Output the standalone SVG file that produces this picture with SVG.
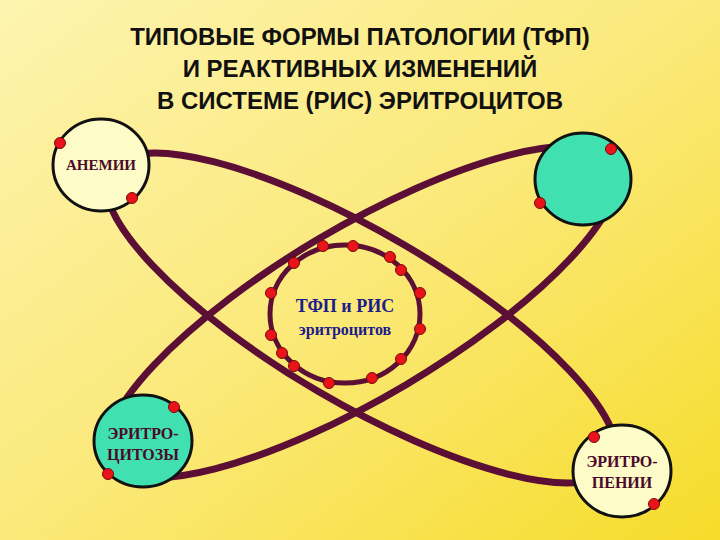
<svg xmlns="http://www.w3.org/2000/svg" width="720" height="540" viewBox="0 0 720 540">
<defs>
<linearGradient id="bg" x1="0" y1="0" x2="1" y2="1">
<stop offset="0" stop-color="#fdf4b0"/><stop offset="0.5" stop-color="#fbe97a"/><stop offset="1" stop-color="#f6dc2a"/>
</linearGradient>
<style>
.orb{fill:none;stroke:#5c0f34;stroke-width:7}
.node{stroke:#111;stroke-width:3}
.pale{fill:#fdfbc8}.teal{fill:#40e0b0}
.dot{fill:#e8141a;stroke:#7a0a0a;stroke-width:1}
.t{font-family:"Liberation Serif",serif;font-weight:bold;fill:#4a0a28;text-anchor:middle}
.ti{font-family:"Liberation Sans",Arial,sans-serif;font-weight:bold;font-size:24px;fill:#111;text-anchor:middle}
</style>
</defs>
<rect width="720" height="540" fill="url(#bg)"/>
<g id="title">
<text class="ti" x="360" y="45">ТИПОВЫЕ  ФОРМЫ  ПАТОЛОГИИ (ТФП)</text>
<text class="ti" x="360" y="77">И  РЕАКТИВНЫХ  ИЗМЕНЕНИЙ</text>
<text class="ti" x="360" y="109">В  СИСТЕМЕ  (РИС) ЭРИТРОЦИТОВ</text>
</g>
<g id="connectors">
<ellipse class="orb" cx="361" cy="318" rx="292" ry="85" transform="rotate(30.4 361 318)"/>
<ellipse class="orb" cx="362" cy="312" rx="292" ry="85" transform="rotate(-30.6 362 312)"/>
</g>
<g id="center">
<ellipse cx="345" cy="314" rx="75" ry="69" fill="none" stroke="#5c0f34" stroke-width="5"/>
<g class="dot">
<circle cx="323" cy="246" r="5.5"/><circle cx="353" cy="246" r="5.5"/><circle cx="390" cy="257" r="5.5"/><circle cx="401" cy="270" r="5.5"/><circle cx="420" cy="293" r="5.5"/><circle cx="420" cy="329" r="5.5"/><circle cx="401" cy="359" r="5.5"/><circle cx="372" cy="378" r="5.5"/><circle cx="329" cy="383" r="5.5"/><circle cx="294" cy="366" r="5.5"/><circle cx="282" cy="353" r="5.5"/><circle cx="271" cy="335" r="5.5"/><circle cx="271" cy="293" r="5.5"/><circle cx="294" cy="263" r="5.5"/>
</g>
<text class="t" x="345" y="312" font-size="18" style="fill:#1c1c8c">ТФП и РИС</text>
<text class="t" x="345" y="335" font-size="16" style="fill:#1c1c8c">эритроцитов</text>
</g>
<g id="anemii">
<ellipse class="node pale" cx="101" cy="165" rx="48" ry="46"/>
<text class="t" x="101" y="170" font-size="15">АНЕМИИ</text>
<circle class="dot" cx="60" cy="143" r="5.5"/><circle class="dot" cx="132" cy="198" r="5.5"/>
</g>
<g id="topright">
<ellipse class="node teal" cx="583" cy="179" rx="48" ry="46"/>
<circle class="dot" cx="611" cy="149" r="5.5"/><circle class="dot" cx="540" cy="203" r="5.5"/>
</g>
<g id="eritrocitozy">
<ellipse class="node teal" cx="143" cy="441" rx="49" ry="46"/>
<text class="t" x="143" y="439" font-size="16">ЭРИТРО-</text>
<text class="t" x="143" y="460" font-size="16">ЦИТОЗЫ</text>
<circle class="dot" cx="174" cy="407" r="5.5"/><circle class="dot" cx="108" cy="474" r="5.5"/>
</g>
<g id="eritropenii">
<ellipse class="node pale" cx="622" cy="471" rx="49" ry="46"/>
<text class="t" x="622" y="467" font-size="16">ЭРИТРО-</text>
<text class="t" x="622" y="488" font-size="16">ПЕНИИ</text>
<circle class="dot" cx="594" cy="437" r="5.5"/><circle class="dot" cx="654" cy="504" r="5.5"/>
</g>
</svg>
